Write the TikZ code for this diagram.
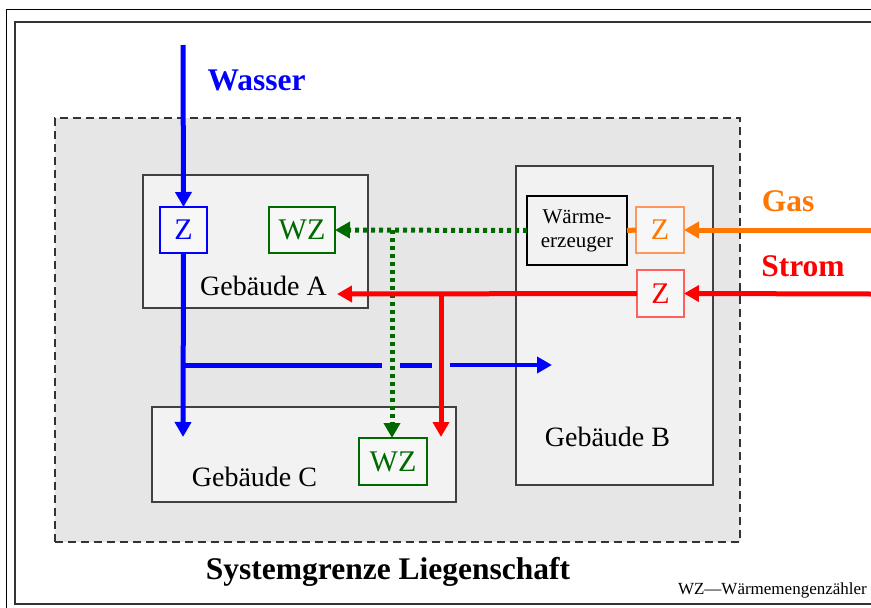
\documentclass[tikz,border=0pt]{standalone}
\usepackage{fontspec}
\setmainfont{Liberation Serif}
\usetikzlibrary{arrows.meta}
\definecolor{bgray}{RGB}{230,230,230}
\definecolor{hgray}{RGB}{242,242,242}
\definecolor{dgreen}{RGB}{0,105,0}
\definecolor{orng}{RGB}{255,118,0}
\definecolor{lorng}{RGB}{255,150,90}
\definecolor{lred}{RGB}{255,95,95}
\begin{document}
\begin{tikzpicture}[x=1pt,y=-1pt,
  house/.style={draw=black!75,line width=1.5pt,fill=hgray,inner sep=0pt,outer sep=0pt},
  meter/.style={line width=1.2pt,fill=hgray!60!white,inner sep=0pt,outer sep=0pt,font=\fontsize{30}{33}\selectfont},
  hlabel/.style={font=\fontsize{28}{32}\selectfont,inner sep=0pt},
  biglabel/.style={font=\bfseries\fontsize{31.5}{35}\selectfont,inner sep=0pt},
  tip/.style={-{Triangle[length=15pt,width=16pt]}},
  bl/.style={blue,line width=5pt},
  rd/.style={red,line width=5pt},
  og/.style={orng,line width=5pt},
  gr/.style={dgreen,line width=5pt,dash pattern=on 4pt off 4pt}]
\useasboundingbox (0,0) rectangle (871,608);
\fill[white] (0,0) rectangle (871,608);
% frames
\draw[line width=1pt] (6,608) -- (6,9) -- (871,9);
\draw[line width=2pt,black!80] (871,604) -- (15,604) -- (15,22) -- (871,22);
% system boundary
\node[draw=black!80,fill=bgray,dash pattern=on 8pt off 5pt,line width=2pt,minimum width=685pt,minimum height=424pt,inner sep=0pt] (grenze) at (397.5,330) {};
% buildings
\node[house,minimum width=225pt,minimum height=133pt] (hA) at (255.5,241.5) {};
\node[house,minimum width=304pt,minimum height=95pt] (hC) at (304,454.5) {};
\node[house,minimum width=197pt,minimum height=319pt] (hB) at (614.5,325.5) {};
\node[hlabel] (lA) at (263.5,286) {Gebäude A};
\node[hlabel] (lC) at (254.5,477) {Gebäude C};
\node[hlabel] (lB) at (607.5,437) {Gebäude B};
% meters
\node[meter,draw=blue,text=blue,minimum width=47pt,minimum height=46pt] (zA) at (183.5,230) {Z};
\node[meter,draw=dgreen,text=dgreen,minimum width=66pt,minimum height=46pt] (wzA) at (302,230) {WZ};
\node[meter,draw=dgreen,text=dgreen,minimum width=68pt,minimum height=47pt] (wzC) at (393,461.5) {WZ};
\node[draw=black,line width=1.5pt,fill=hgray,inner sep=0pt,outer sep=0pt,minimum width=100pt,minimum height=69pt,align=center,font=\fontsize{21}{24}\selectfont] (we) at (577,230.5) {Wärme-\\erzeuger};
\node[meter,draw=lorng,text=orng,minimum width=48pt,minimum height=46pt] (zG) at (660,230) {Z};
\node[meter,draw=lred,text=red,minimum width=47pt,minimum height=47pt] (zS) at (660.5,293.5) {Z};
% coordinates
\coordinate (w0) at (183,45);
\coordinate (wC) at (183,437);
\coordinate (b0) at (183,365);
\coordinate (b1) at (382,365);
\coordinate (b2) at (400,365);
\coordinate (b3) at (432,365);
\coordinate (b4) at (450,365);
\coordinate (b5) at (552,365);
\coordinate (gj) at (392,230);
\coordinate (rA) at (337,294);
\coordinate (rj) at (441,294);
\coordinate (rC) at (441,437);
\coordinate (g0) at (871,230);
\coordinate (s0) at (871,294);
% water
\draw[bl,tip] (w0) -- (zA.north);
\draw[bl,tip] (zA.south) -- (wC);
\draw[bl] (b0) -- (b1);
\draw[bl] (b2) -- (b3);
\draw[blue,line width=4pt,tip] (b4) -- (b5);
% heat
\draw[gr,tip] (we.west) -- (wzA.east);
\draw[gr,tip] (gj) -- (gj |- wzC.north);
% electricity
\draw[rd,tip] (zS.west) -- (rA);
\draw[rd,tip] (rj) -- (rC);
\draw[rd,tip] (s0) -- (zS.east);
% gas
\draw[og,tip] (g0) -- (zG.east);
\draw[og] (we.east) -- (zG.west);
% labels
\node[biglabel,text=blue] (lw) at (256.5,80) {Wasser};
\node[biglabel,text=orng] (lg) at (788,201) {Gas};
\node[biglabel,text=red] (ls) at (803,266) {Strom};
\node[biglabel] (lsys) at (388,572) {Systemgrenze Liegenschaft};
\node[font=\fontsize{17}{19}\selectfont,inner sep=0pt,anchor=east] (leg) at (867,590) {WZ—Wärmemengenzähler};
\end{tikzpicture}
\end{document}
